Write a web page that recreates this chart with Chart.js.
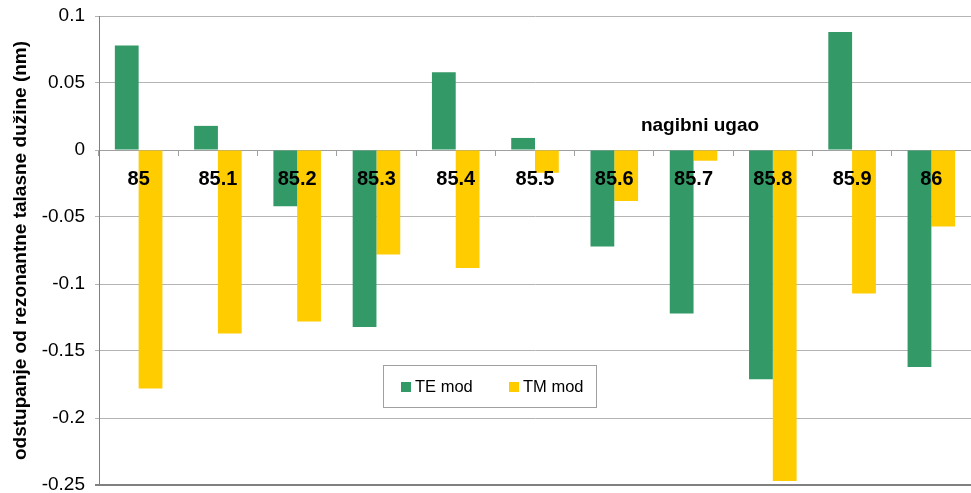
<!DOCTYPE html>
<html>
<head>
<meta charset="utf-8">
<script src="https://cdn.jsdelivr.net/npm/chart.js@4/dist/chart.umd.min.js"></script>
<style>
  html, body { margin: 0; padding: 0; background: #fff; }
  #wrap { width: 971px; height: 493px; position: relative; }
</style>
</head>
<body>
<div id="wrap"><canvas id="chart"></canvas></div>
<script>
var angles = ['85', '85.1', '85.2', '85.3', '85.4', '85.5', '85.6', '85.7', '85.8', '85.9', '86'];
var teValues = [0.078, 0.018, -0.042, -0.132, 0.058, 0.009, -0.072, -0.122, -0.171, 0.088, -0.162];
var tmValues = [-0.178, -0.137, -0.128, -0.078, -0.088, -0.017, -0.038, -0.008, -0.247, -0.107, -0.057];
var yTicks = [0.1, 0.05, 0, -0.05, -0.1, -0.15, -0.2, -0.25];

var GREEN = '#339966', YELLOW = '#ffcc00';
var FONT = '"Liberation Sans", Arial, sans-serif';

function tickText(v) {
  return String(Math.round(v * 100) / 100);
}

// legend box and the "nagibni ugao" caption sit inside the plot
var overlay = {
  id: 'overlay',
  afterDraw: function(chart) {
    var ctx = chart.ctx;
    ctx.save();
    ctx.font = 'bold 19px ' + FONT;
    ctx.fillStyle = '#000';
    ctx.textAlign = 'center';
    ctx.textBaseline = 'middle';
    ctx.fillText('nagibni ugao', 700, 126);

    ctx.fillStyle = '#fff';
    ctx.fillRect(383.5, 365.5, 213, 42);
    ctx.strokeStyle = '#a0a0a0';
    ctx.lineWidth = 1;
    ctx.strokeRect(383.5, 365.5, 213, 42);

    ctx.font = '16.5px ' + FONT;
    ctx.textAlign = 'left';
    ctx.fillStyle = GREEN;
    ctx.fillRect(401, 382, 10, 10);
    ctx.fillStyle = YELLOW;
    ctx.fillRect(509, 382, 10, 10);
    ctx.fillStyle = '#000';
    ctx.fillText('TE mod', 415, 387);
    ctx.fillText('TM mod', 523, 387);
    ctx.restore();
  }
};

var chart = new Chart(document.getElementById('chart'), {
  type: 'bar',
  data: {
    labels: angles,
    datasets: [
      { label: 'TE mod', data: teValues, backgroundColor: GREEN },
      { label: 'TM mod', data: tmValues, backgroundColor: YELLOW }
    ]
  },
  options: {
    responsive: true,
    maintainAspectRatio: false,
    animation: false,
    categoryPercentage: 0.6,
    barPercentage: 1.0,
    layout: { padding: { top: 16, bottom: 8, left: 0, right: 0 } },
    plugins: {
      legend: { display: false },
      tooltip: { enabled: false }
    },
    scales: {
      x: {
        position: { y: 0 },
        grid: {
          offset: true,
          drawOnChartArea: false,
          drawTicks: true,
          tickLength: 5,
          color: '#a0a0a0'
        },
        border: { display: true, color: '#a0a0a0' },
        ticks: {
          z: 1,
          color: '#000',
          padding: 12,
          font: { family: FONT, size: 20, weight: 'bold' }
        }
      },
      y: {
        min: -0.25,
        max: 0.1,
        afterBuildTicks: function(scale) {
          scale.ticks = yTicks.map(function(v) { return { value: v }; });
        },
        afterFit: function(scale) {
          scale.width = 99;
          scale.paddingTop = 0;
          scale.paddingBottom = 0;
        },
        grid: {
          color: function(c) {
            return c.tick && c.tick.value === -0.25 ? '#808080' : '#b4b4b4';
          },
          lineWidth: function(c) {
            return c.tick && c.tick.value === -0.25 ? 2 : 1;
          },
          tickLength: 4
        },
        border: { display: true, color: '#808080' },
        ticks: {
          color: '#000',
          padding: 10,
          font: { family: FONT, size: 19 },
          callback: function(v) { return tickText(v); }
        },
        title: {
          display: true,
          text: 'odstupanje od rezonantne talasne dužine (nm)',
          color: '#000',
          padding: { top: 9, bottom: 0 },
          font: { family: FONT, size: 19, weight: 'bold' }
        }
      }
    }
  },
  plugins: [overlay]
});
</script>
</body>
</html>
